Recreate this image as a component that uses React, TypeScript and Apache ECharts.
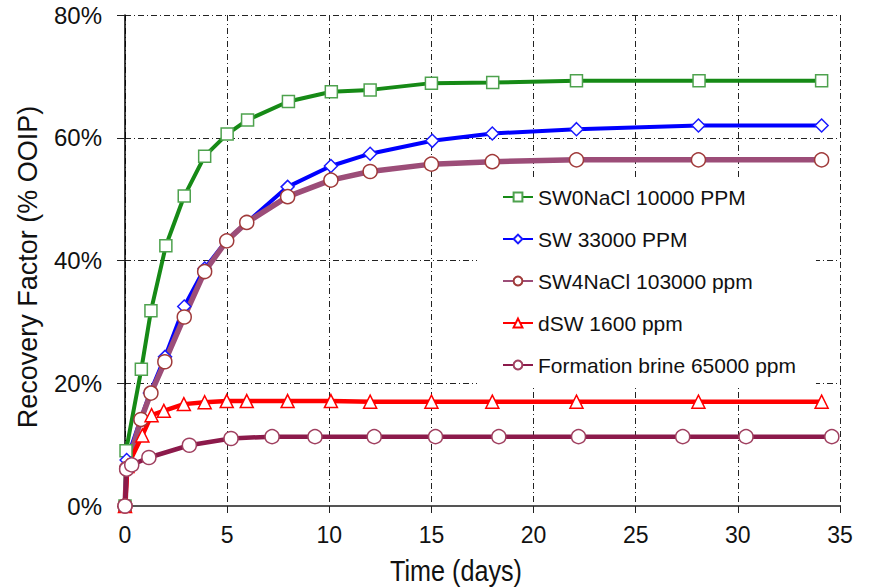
import React, { useEffect, useRef } from "react";
import * as echarts from "echarts";

const seriesNames = [
  "SW0NaCl 10000 PPM",
  "SW 33000 PPM",
  "SW4NaCl 103000 ppm",
  "dSW 1600 ppm",
  "Formation brine 65000 ppm",
];

const sw0Days = [0, 0.05, 0.8, 1.27, 2.0, 2.9, 3.9, 5.0, 6.0, 8.0, 10.1, 12.0, 15.0, 18.0, 22.1, 28.1, 34.1];
const sw0Rf = [0, 9.0, 22.3, 31.8, 42.4, 50.5, 57.0, 60.6, 62.9, 65.9, 67.5, 67.8, 68.9, 69.0, 69.3, 69.3, 69.3];

const swDays = [0, 0.08, 0.75, 1.22, 1.96, 2.9, 3.9, 4.98, 5.96, 7.96, 10.08, 12.0, 15.04, 17.98, 22.1, 28.07, 34.1];
const swRf = [0, 7.5, 14.0, 18.4, 24.3, 32.5, 38.7, 43.3, 46.2, 52.0, 55.4, 57.4, 59.5, 60.7, 61.4, 62.0, 62.0];

const sw4Days = [0, 0.08, 0.78, 1.27, 1.95, 2.9, 3.9, 4.98, 5.96, 7.96, 10.08, 12.0, 15.0, 17.98, 22.1, 28.07, 34.1];
const sw4Rf = [0, 6.1, 14.1, 18.4, 23.5, 30.8, 38.2, 43.2, 46.2, 50.4, 53.1, 54.5, 55.7, 56.1, 56.4, 56.4, 56.4];

const dswDays = [0, 0.12, 0.85, 1.3, 1.9, 2.88, 3.9, 4.98, 5.96, 7.96, 10.08, 12.0, 15.0, 17.98, 22.1, 28.07, 34.1];
const dswRf = [0, 6.5, 11.5, 14.8, 15.5, 16.6, 16.9, 17.1, 17.1, 17.1, 17.1, 17.0, 17.0, 17.0, 17.0, 17.0, 17.0];

const fbDays = [0, 0.08, 0.33, 1.17, 3.15, 5.19, 7.2, 9.3, 12.2, 15.2, 18.3, 22.2, 27.3, 30.4, 34.6];
const fbRf = [0, 6.0, 6.7, 7.9, 9.9, 11.0, 11.3, 11.3, 11.3, 11.3, 11.3, 11.3, 11.3, 11.3, 11.3];

const xTicks = { min: 0, max: 35, interval: 5 };
const yTicks = { min: 0, max: 80, interval: 20 };

const pair = (xs: number[], ys: number[]) => xs.map((x, i) => [x, ys[i]]);

const gridDash = { color: "#222", width: 1, type: [6, 3, 1, 3] as any };
const FONT = "'Liberation Sans', Arial, sans-serif";

export default function App() {
  const ref = useRef<HTMLDivElement>(null);
  useEffect(() => {
    if (!ref.current) return;
    const chart = echarts.init(ref.current, null, { renderer: "svg" });
    const mk = (
      name: string,
      data: number[][],
      line: string,
      border: string,
      symbol: string,
      size: number,
      width: number
    ) => ({
      name,
      type: "line",
      data,
      symbol,
      symbolSize: size,
      showAllSymbol: true,
      lineStyle: { color: line, width },
      itemStyle: { color: "#fff", borderColor: border, borderWidth: 1.5 },
      emphasis: { disabled: true },
    });
    chart.setOption({
      animation: false,
      backgroundColor: "#fff",
      grid: { left: 125, right: 31, top: 15, bottom: 82, containLabel: false },
      xAxis: {
        type: "value",
        ...xTicks,
        axisLine: { show: true, lineStyle: { color: "#555", width: 2 } },
        axisTick: { show: true, length: 7, lineStyle: { color: "#222", width: 1 } },
        axisLabel: {
          margin: 17,
          fontSize: 23,
          color: "#111",
          fontFamily: FONT,
        },
        splitLine: { show: true, lineStyle: gridDash },
      },
      yAxis: {
        type: "value",
        ...yTicks,
        axisLine: { show: true, lineStyle: { color: "#000", width: 1.5 } },
        axisTick: { show: true, length: 8, lineStyle: { color: "#222", width: 1 } },
        axisLabel: {
          margin: 23,
          fontSize: 24,
          color: "#111",
          fontFamily: FONT,
          formatter: "{value}%",
        },
        splitLine: { show: true, lineStyle: gridDash },
      },
      legend: {
        orient: "vertical",
        left: 477,
        top: 177,
        backgroundColor: "#fff",
        padding: [9, 20, 9, 25],
        itemGap: 20,
        itemWidth: 30,
        itemHeight: 11,
        textStyle: {
          fontSize: 21,
          lineHeight: 22,
          color: "#111",
          fontFamily: FONT,
        },
        data: seriesNames,
      },
      graphic: [
        {
          type: "text",
          x: 456,
          y: 571,
          scaleX: 0.84,
          style: {
            text: "Time (days)",
            fontSize: 30,
            fontFamily: FONT,
            fill: "#111",
            textAlign: "center",
            textVerticalAlign: "middle",
          },
        },
        {
          type: "text",
          x: 28,
          y: 267,
          rotation: Math.PI / 2,
          style: {
            text: "Recovery Factor (% OOIP)",
            fontSize: 27,
            fontFamily: FONT,
            fill: "#111",
            textAlign: "center",
            textVerticalAlign: "middle",
          },
        },
      ],
      series: [
        mk(seriesNames[0], pair(sw0Days, sw0Rf), "#168a16", "#4ea24e", "rect", 12, 4),
        mk(seriesNames[1], pair(swDays, swRf), "#0000ff", "#1a1aff", "diamond", 13, 4),
        mk(seriesNames[2], pair(sw4Days, sw4Rf), "#9c4d78", "#a03a3a", "circle", 14, 5.5),
        mk(seriesNames[3], pair(dswDays, dswRf), "#ff0000", "#ff0000", "triangle", 13, 4.5),
        mk(seriesNames[4], pair(fbDays, fbRf), "#8c1a4b", "#a04060", "circle", 14, 4.5),
      ],
    });
    return () => chart.dispose();
  }, []);
  return (
    <div
      ref={ref}
      style={{ position: "fixed", left: 0, top: 0, width: 871, height: 588, background: "#fff" }}
    />
  );
}
